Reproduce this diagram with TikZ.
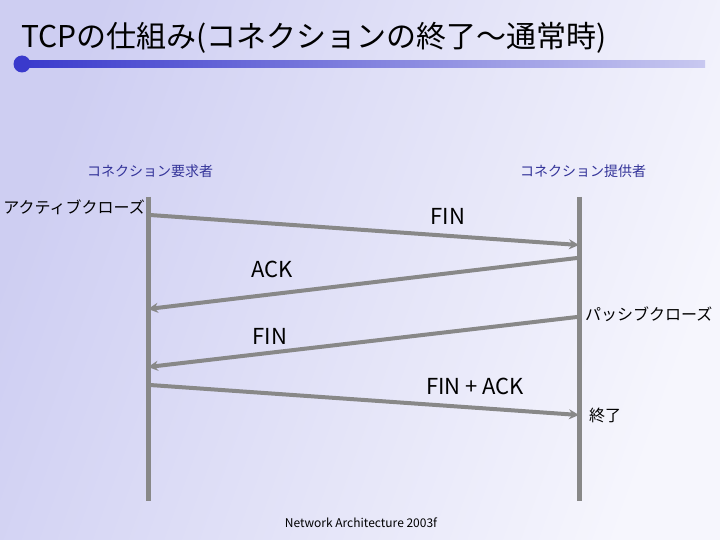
\documentclass[tikz,border=0pt]{standalone}
\usepackage{fontspec}
\setmainfont{Noto Sans CJK JP}
\newfontfamily\cjk{Noto Sans CJK JP}
\usetikzlibrary{arrows.meta}
\definecolor{bgL}{RGB}{206,206,242}
\definecolor{bgR}{RGB}{246,246,253}
\definecolor{lifeg}{RGB}{136,136,136}
\definecolor{hdblue}{RGB}{51,51,153}
\definecolor{barA}{RGB}{58,58,204}
\definecolor{barB}{RGB}{200,200,240}
\tikzset{
  life/.style={draw=lifeg, line width=5pt},
  msg/.style={draw=lifeg, line width=4pt, -{Stealth[length=10pt,width=10pt]}},
  role/.style={font=\fontsize{14}{16}\selectfont, text=hdblue, inner sep=0pt},
  note/.style={font=\fontsize{16}{18}\selectfont, text=black, inner sep=0pt},
  lbl/.style={font=\fontsize{22}{24}\selectfont, text=black, inner sep=0pt},
}
\begin{document}
\begin{tikzpicture}[x=1pt,y=-1pt]
\useasboundingbox (0,0) rectangle (720,540);
\shade[left color=bgL, right color=bgR, shading angle=70] (0,0) rectangle (720,540);
% title
\node[anchor=base west, inner sep=0pt, font=\fontsize{30}{32}\selectfont] (title) at (21,48) {TCPの仕組み(コネクションの終了～通常時)};
\shade[left color=barA, right color=barB] (22,60.5) rectangle (705,67.5);
\fill[barA] (22,64) circle (8.5);
% roles
\node[role] (req) at (150,171) {コネクション要求者};
\node[role] (prov) at (583,171) {コネクション提供者};
% lifelines
\coordinate (Ltop) at (148,197);
\coordinate (Lbot) at (148,501);
\coordinate (Rtop) at (579,197);
\coordinate (Rbot) at (579,501);
\draw[life] (Ltop) -- (Lbot);
\draw[life] (Rtop) -- (Rbot);
% notes
\node[note, anchor=east] (active) at (145,207) {アクティブクローズ};
\node[note, anchor=west] (passive) at (585,314) {パッシブクローズ};
\node[note, anchor=west] (endn) at (589,415) {終了};
% messages
\coordinate (a1) at (150,215); \coordinate (b1) at (579,245);
\coordinate (a2) at (577,258); \coordinate (b2) at (148,309);
\coordinate (a3) at (577,317); \coordinate (b3) at (148,367);
\coordinate (a4) at (150,385); \coordinate (b4) at (579,415);
\draw[msg] (a1) -- (b1);
\draw[msg] (a2) -- (b2);
\draw[msg] (a3) -- (b3);
\draw[msg] (a4) -- (b4);
\node[lbl] (l1) at (448,216) {FIN};
\node[lbl] (l2) at (272,269) {ACK};
\node[lbl] (l3) at (270,336) {FIN};
\node[lbl] (l4) at (475,386) {FIN + ACK};
% footer
\node[inner sep=0pt, font=\fontsize{12}{14}\selectfont] (foot) at (361,523) {Network Architecture 2003f};
\end{tikzpicture}
\end{document}
